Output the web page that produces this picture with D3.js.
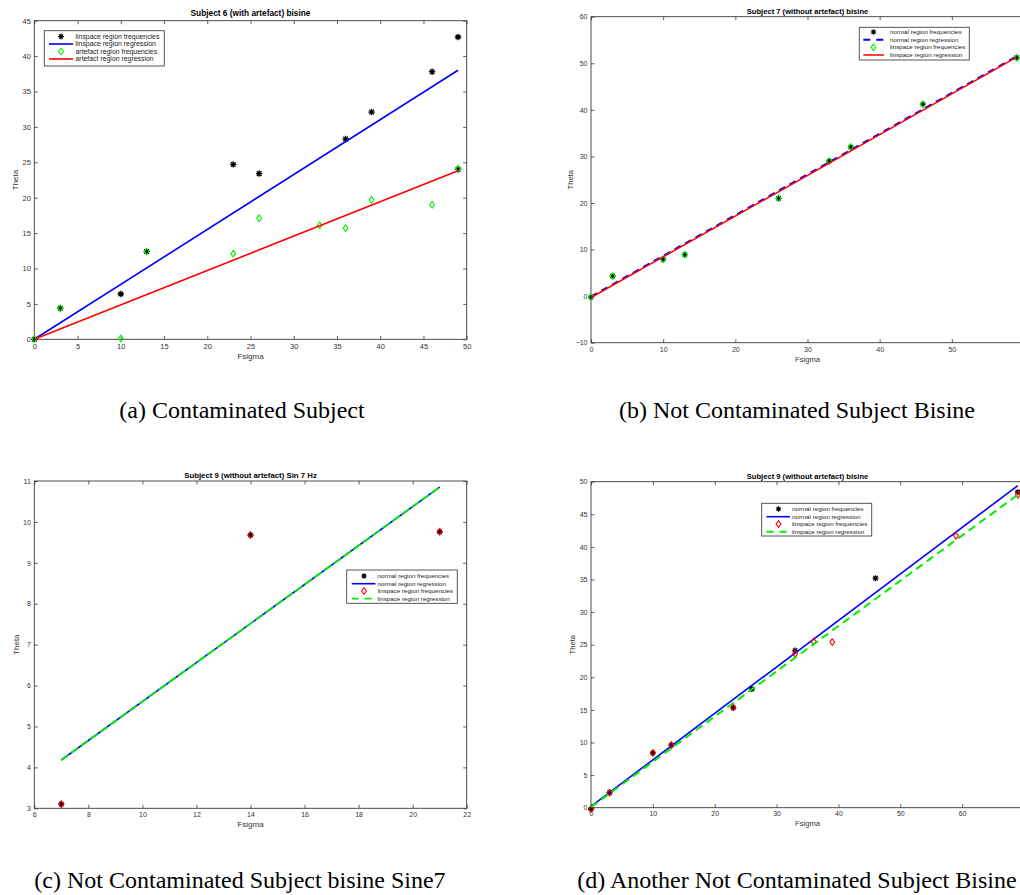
<!DOCTYPE html>
<html><head><meta charset="utf-8">
<script src="https://cdn.jsdelivr.net/npm/d3@7"></script>
<style>body{margin:0;background:#fff}svg{display:block}</style>
</head><body><svg id="c" width="1020" height="895"></svg>
<script>
// ---------- Panel (a): Subject 6 (with artefact) bisine ----------
const aTitle = "Subject 6 (with artefact) bisine";
const aLinX = [0, 3, 10, 13, 23, 26, 36, 39, 46, 49, 49];
const aLinY = [0, 4.4, 6.4, 12.4, 24.7, 23.4, 28.3, 32.1, 37.8, 42.7, 24.0];
const aArtX = [0, 3, 10, 13, 23, 26, 33, 36, 39, 46, 49];
const aArtY = [0, 4.4, 0.1, 12.4, 12.1, 17.1, 16.1, 15.7, 19.7, 19.0, 24.1];
const aLinRegX = [0, 49], aLinRegY = [0, 38.0];
const aArtRegX = [0, 49], aArtRegY = [0, 23.8];
const aXTicks = [0, 5, 10, 15, 20, 25, 30, 35, 40, 45, 50];
const aYTicks = [0, 5, 10, 15, 20, 25, 30, 35, 40, 45];
const aLegend = ["linspace region frequencies", "linspace region regression", "artefact region frequencies", "artefact region regression"];

// ---------- Panel (b): Subject 7 (without artefact) bisine ----------
const bTitle = "Subject 7 (without artefact) bisine";
const bNormX = [0, 3, 10, 13, 26, 33, 36, 46, 59];
const bNormY = [-0.2, 4.3, 7.9, 8.9, 21.0, 29.0, 32.0, 41.2, 51.2];
const bLinX = [0, 3, 10, 13, 26, 33, 36, 46, 59];
const bLinY = [-0.2, 4.3, 7.9, 8.9, 21.0, 29.0, 32.0, 41.2, 51.2];
const bNormRegX = [0, 59], bNormRegY = [-0.1, 51.5];
const bLinRegX = [0, 59], bLinRegY = [-0.3, 51.3];
const bXTicks = [0, 10, 20, 30, 40, 50, 60];
const bYTicks = [-10, 0, 10, 20, 30, 40, 50, 60];
const bLegend = ["normal region frequencies", "normal region regression", "linspace region frequencies", "linspace region regression"];

// ---------- Panel (c): Subject 9 (without artefact) Sin 7 Hz ----------
const cTitle = "Subject 9 (without artefact) Sin 7 Hz";
const cNormX = [7, 14, 21];
const cNormY = [3.1, 9.68, 9.76];
const cLinX = [7, 14, 21];
const cLinY = [3.1, 9.68, 9.76];
const cNormRegX = [7, 21], cNormRegY = [4.18, 10.85];
const cLinRegX = [7, 21], cLinRegY = [4.18, 10.85];
const cXTicks = [6, 8, 10, 12, 14, 16, 18, 20, 22];
const cYTicks = [3, 4, 5, 6, 7, 8, 9, 10, 11];
const cLegend = ["normal region frequencies", "normal region regression", "linspace region frequencies", "linspace region regression"];

// ---------- Panel (d): Subject 9 (without artefact) bisine ----------
const dTitle = "Subject 9 (without artefact) bisine";
const dNormX = [0, 3, 10, 13, 23, 26, 33, 46, 69];
const dNormY = [-0.2, 2.3, 8.4, 9.6, 15.3, 18.2, 24.1, 35.2, 48.4];
const dLinX = [0, 3, 10, 13, 23, 33, 36, 39, 59, 69];
const dLinY = [-0.2, 2.3, 8.4, 9.6, 15.4, 23.6, 25.5, 25.4, 41.7, 48.0];
const dNormRegX = [0, 69], dNormRegY = [0.2, 49.4];
const dLinRegX = [0, 69], dLinRegY = [0.1, 48.0];
const dXTicks = [0, 10, 20, 30, 40, 50, 60, 70];
const dYTicks = [0, 5, 10, 15, 20, 25, 30, 35, 40, 45, 50];
const dLegend = ["normal region frequencies", "normal region regression", "linspace region frequencies", "linspace region regression"];

const captions = ["(a) Contaminated Subject", "(b) Not Contaminated Subject Bisine", "(c) Not Contaminated Subject bisine Sine7", "(d) Another Not Contaminated Subject Bisine"];
const axisXLabel = "Fsigma", axisYLabel = "Theta";

const SANS = "'Liberation Sans', Arial, Helvetica, sans-serif";
const SERIF = "'Liberation Serif', 'Times New Roman', serif";
const svg = d3.select('#c');

function zip(xs, ys) { return xs.map((v, i) => [v, ys[i]]); }
function starPath(s) {
  const k = s * 0.72;
  return `M${-s},0L${s},0M0,${-s}L0,${s}M${-k},${-k}L${k},${k}M${-k},${k}L${k},${-k}`;
}
function diamondPath(w, h) { return `M0,${-h}L${w},0L0,${h}L${-w},0Z`; }

function drawPanel(p) {
  const x = d3.scaleLinear().domain(p.xDomain).range(p.xRange);
  const y = d3.scaleLinear().domain(p.yDomain).range(p.yRange);
  const g = svg.append('g');
  const L = p.xRange[0], R = p.xRange[1], T = p.yRange[1], B = p.yRange[0];
  const axCol = '#3a3a3a';
  const styleAxis = sel => {
    sel.select('.domain').remove();
    sel.selectAll('line').attr('stroke', axCol).attr('stroke-width', 0.8);
    sel.selectAll('text').attr('fill', '#333').style('font-family', SANS).style('font-size', p.tickFont + 'px');
  };
  g.append('g').attr('transform', `translate(0,${B})`)
    .call(d3.axisBottom(x).tickValues(p.xTicks).tickSizeInner(-p.tick).tickSizeOuter(0).tickPadding(p.xPad).tickFormat(d3.format('d')))
    .call(styleAxis);
  g.append('g').attr('transform', `translate(0,${T})`)
    .call(d3.axisTop(x).tickValues(p.xTicks).tickSizeInner(-p.tick).tickSizeOuter(0).tickFormat(''))
    .call(styleAxis);
  g.append('g').attr('transform', `translate(${L},0)`)
    .call(d3.axisLeft(y).tickValues(p.yTicks).tickSizeInner(-p.tick).tickSizeOuter(0).tickPadding(p.yPad).tickFormat(d3.format('d')))
    .call(styleAxis);
  g.append('g').attr('transform', `translate(${R},0)`)
    .call(d3.axisRight(y).tickValues(p.yTicks).tickSizeInner(-p.tick).tickSizeOuter(0).tickFormat(''))
    .call(styleAxis);
  g.append('rect').attr('x', L).attr('y', T).attr('width', R - L).attr('height', B - T)
    .attr('fill', 'none').attr('stroke', axCol).attr('stroke-width', 0.9);

  // series
  const line = d3.line().x(d => x(d[0])).y(d => y(d[1]));
  p.series.forEach(s => {
    if (s.type === 'line') {
      g.append('path').datum(zip(s.x, s.y)).attr('d', line).attr('fill', 'none')
        .attr('stroke', s.color).attr('stroke-width', s.width)
        .attr('stroke-dasharray', s.dash || null);
    } else if (s.type === 'star') {
      g.selectAll(null).data(zip(s.x, s.y)).enter().append('path')
        .attr('transform', d => `translate(${x(d[0])},${y(d[1])})`)
        .attr('d', starPath(p.starSize)).attr('fill', 'none').attr('stroke', s.color).attr('stroke-width', 1.3);
    } else if (s.type === 'diamond') {
      g.selectAll(null).data(zip(s.x, s.y)).enter().append('path')
        .attr('transform', d => `translate(${x(d[0])},${y(d[1])})`)
        .attr('d', diamondPath(p.dW, p.dH)).attr('fill', 'none').attr('stroke', s.color).attr('stroke-width', 1.1);
    }
  });

  // title & labels
  g.append('text').attr('x', (L + R) / 2).attr('y', p.titleY).attr('text-anchor', 'middle')
    .style('font-family', SANS).style('font-weight', 'bold').style('font-size', p.titleFont + 'px').attr('fill', '#000').text(p.title);
  g.append('text').attr('x', (L + R) / 2).attr('y', p.xLabelY).attr('text-anchor', 'middle')
    .style('font-family', SANS).style('font-size', p.labelFont + 'px').attr('fill', '#333').text(axisXLabel);
  g.append('text').attr('transform', `translate(${p.yLabelX},${(T + B) / 2}) rotate(-90)`).attr('text-anchor', 'middle')
    .attr('dy', '0.35em')
    .style('font-family', SANS).style('font-size', p.labelFont + 'px').attr('fill', '#333').text(axisYLabel);

  // legend
  const lg = p.legend;
  const lgG = g.append('g');
  lgG.append('rect').attr('x', lg.x).attr('y', lg.y).attr('width', lg.w).attr('height', lg.h)
    .attr('fill', '#fff').attr('stroke', '#444').attr('stroke-width', 0.9);
  p.series.forEach((s, i) => {
    const ry = lg.rows[i];
    if (s.type === 'line') {
      lgG.append('line').attr('x1', lg.lx1).attr('x2', lg.lx2).attr('y1', ry).attr('y2', ry)
        .attr('stroke', s.color).attr('stroke-width', s.width).attr('stroke-dasharray', s.dash ? lg.dash : null);
    } else if (s.type === 'star') {
      lgG.append('path').attr('transform', `translate(${lg.mx},${ry})`).attr('d', starPath(p.starSize * 0.9))
        .attr('fill', 'none').attr('stroke', s.color).attr('stroke-width', 1.2);
    } else {
      lgG.append('path').attr('transform', `translate(${lg.mx},${ry})`).attr('d', diamondPath(p.dW, p.dH))
        .attr('fill', 'none').attr('stroke', s.color).attr('stroke-width', 1.1);
    }
    lgG.append('text').attr('x', lg.tx).attr('y', ry).attr('dy', '0.35em')
      .style('font-family', SANS).style('font-size', lg.font + 'px').attr('fill', '#222').text(p.legendLabels[i]);
  });
}

drawPanel({
  title: aTitle, xDomain: [0, 50], yDomain: [0, 45], xRange: [34.3, 466.7], yRange: [339.3, 20.7],
  xTicks: aXTicks, yTicks: aYTicks, tick: 3.5, tickFont: 7.5, xPad: 4, yPad: 3.5,
  titleY: 16, titleFont: 8.3, xLabelY: 359, labelFont: 8, yLabelX: 15,
  starSize: 3.2, dW: 2.4, dH: 3.3,
  series: [
    { type: 'star', x: aLinX, y: aLinY, color: '#000' },
    { type: 'line', x: aLinRegX, y: aLinRegY, color: '#0000ff', width: 1.6 },
    { type: 'diamond', x: aArtX, y: aArtY, color: '#00ee00' },
    { type: 'line', x: aArtRegX, y: aArtRegY, color: '#ff0000', width: 1.6 }
  ],
  legendLabels: aLegend,
  legend: { x: 44.3, y: 30.7, w: 120, h: 35.3, rows: [36.5, 44, 51.5, 59], lx1: 49, lx2: 73, mx: 61, tx: 75.5, font: 6.9, dash: '6,5' }
});

drawPanel({
  title: bTitle, xDomain: [0, 60], yDomain: [-10, 60], xRange: [591, 1024], yRange: [342.7, 16.7],
  xTicks: bXTicks, yTicks: bYTicks, tick: 3.5, tickFont: 7, xPad: 4, yPad: 3.5,
  titleY: 14, titleFont: 7.6, xLabelY: 362, labelFont: 7.6, yLabelX: 570,
  starSize: 3.0, dW: 2.4, dH: 3.3,
  series: [
    { type: 'star', x: bNormX, y: bNormY, color: '#000' },
    { type: 'line', x: bNormRegX, y: bNormRegY, color: '#0000ff', width: 2, dash: '7,5' },
    { type: 'diamond', x: bLinX, y: bLinY, color: '#00ee00' },
    { type: 'line', x: bLinRegX, y: bLinRegY, color: '#ff0000', width: 1.5 }
  ],
  legendLabels: bLegend,
  legend: { x: 859.3, y: 27.3, w: 110, h: 32.7, rows: [32, 39.7, 47.3, 55], lx1: 863.3, lx2: 884, mx: 873.5, tx: 890, font: 6.2, dash: '7,6' }
});

drawPanel({
  title: cTitle, xDomain: [6, 22], yDomain: [3, 11], xRange: [34.3, 466.7], yRange: [808.3, 481],
  xTicks: cXTicks, yTicks: cYTicks, tick: 3.5, tickFont: 7, xPad: 4, yPad: 3.5,
  titleY: 478, titleFont: 7.8, xLabelY: 827, labelFont: 8, yLabelX: 15.7,
  starSize: 3.0, dW: 2.4, dH: 3.3,
  series: [
    { type: 'star', x: cNormX, y: cNormY, color: '#000' },
    { type: 'line', x: cNormRegX, y: cNormRegY, color: '#0000ff', width: 1.6 },
    { type: 'diamond', x: cLinX, y: cLinY, color: '#ff0000' },
    { type: 'line', x: cLinRegX, y: cLinRegY, color: '#00ee00', width: 1.8, dash: '9,3' }
  ],
  legendLabels: cLegend,
  legend: { x: 346.7, y: 570, w: 110.6, h: 33.3, rows: [576, 583.7, 591, 598.7], lx1: 351.7, lx2: 375.5, mx: 364, tx: 377.5, font: 6.2, dash: '7,6' }
});

drawPanel({
  title: dTitle, xDomain: [0, 70], yDomain: [0, 50], xRange: [591, 1024], yRange: [807.7, 481.7],
  xTicks: dXTicks, yTicks: dYTicks, tick: 3.5, tickFont: 7, xPad: 3.8, yPad: 3.5,
  titleY: 478.5, titleFont: 7.6, xLabelY: 826, labelFont: 7.6, yLabelX: 572,
  starSize: 3.0, dW: 2.4, dH: 3.3,
  series: [
    { type: 'star', x: dNormX, y: dNormY, color: '#000' },
    { type: 'line', x: dNormRegX, y: dNormRegY, color: '#0000ff', width: 1.6 },
    { type: 'diamond', x: dLinX, y: dLinY, color: '#ff0000' },
    { type: 'line', x: dLinRegX, y: dLinRegY, color: '#00ee00', width: 2, dash: '8,5' }
  ],
  legendLabels: dLegend,
  legend: { x: 761.7, y: 503.3, w: 110, h: 32.7, rows: [509, 516.7, 524, 531.7], lx1: 766.5, lx2: 790, mx: 778.5, tx: 792, font: 6.2, dash: '7,6' }
});

// captions
const capPos = [[242, 418], [797, 418], [240, 888], [797, 888]];
captions.forEach((c, i) => {
  svg.append('text').attr('x', capPos[i][0]).attr('y', capPos[i][1]).attr('text-anchor', 'middle')
    .style('font-family', SERIF).style('font-size', '24px').attr('fill', '#000').text(c);
});
</script></body></html>
